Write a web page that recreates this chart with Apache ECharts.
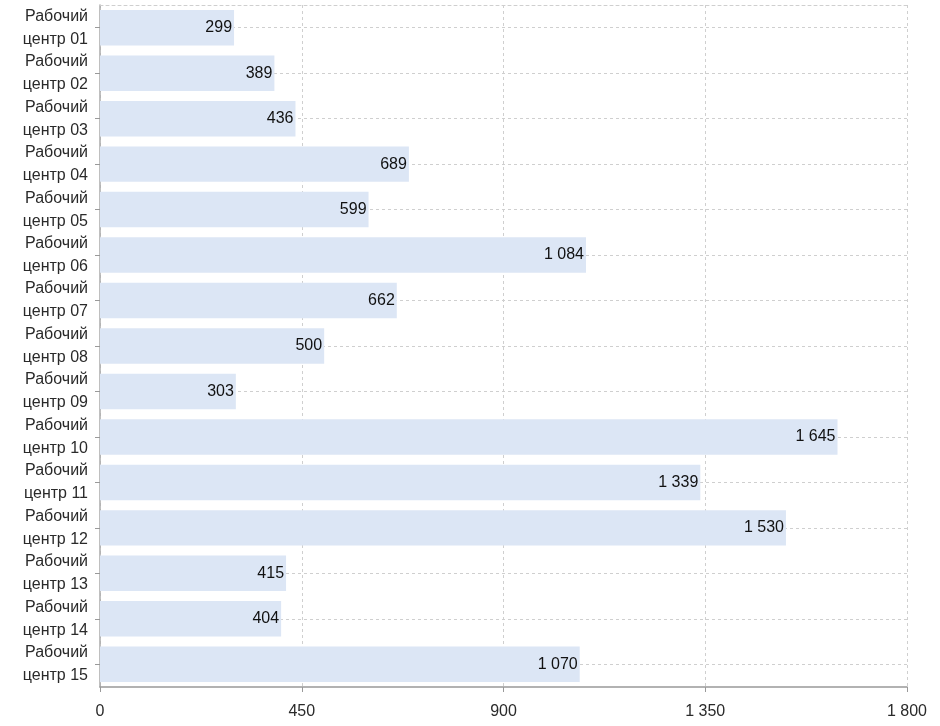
<!DOCTYPE html>
<html><head><meta charset="utf-8">
<script src="https://cdn.jsdelivr.net/npm/echarts@6/dist/echarts.min.js"></script>
<style>html,body{margin:0;padding:0;background:#fff}#c{width:940px;height:726px}</style>
</head><body><div id="c"></div>
<script>
var categories = ["Рабочий центр 01","Рабочий центр 02","Рабочий центр 03","Рабочий центр 04","Рабочий центр 05","Рабочий центр 06","Рабочий центр 07","Рабочий центр 08","Рабочий центр 09","Рабочий центр 10","Рабочий центр 11","Рабочий центр 12","Рабочий центр 13","Рабочий центр 14","Рабочий центр 15"];
var values = [299, 389, 436, 689, 599, 1084, 662, 500, 303, 1645, 1339, 1530, 415, 404, 1070];
var xTicks = [0, 450, 900, 1350, 1800];

function fmt(v){ return String(v).replace(/\B(?=(\d{3})+(?!\d))/g, ' '); }

var chart = echarts.init(document.getElementById('c'), null, {renderer:'canvas'});
var font = 'Liberation Sans, Arial, sans-serif';
chart.setOption({
  animation: false,
  textStyle: {fontFamily: font},
  grid: {left: 100, right: 33, top: 5, bottom: 39, containLabel: false},
  xAxis: [{
    type: 'value', min: xTicks[0], max: xTicks[xTicks.length-1], interval: 450,
    axisLine: {show: true, lineStyle: {color: '#999', width: 1.5}},
    axisTick: {show: true, length: 5, lineStyle: {color: '#999'}},
    axisLabel: {color: '#2a2a2a', fontSize: 16, margin: 17, formatter: fmt, fontFamily: font},
    splitLine: {show: true, lineStyle: {color: '#cfcfcf', type: [3, 3]}}
  }, {
    type: 'value', position: 'top', min: 0, max: 1800,
    axisLine: {show: true, lineStyle: {color: '#cfcfcf', type: [3, 3]}},
    axisTick: {show: false}, axisLabel: {show: false}, splitLine: {show: false}
  }],
  yAxis: {
    type: 'category', data: categories, inverse: true,
    axisLine: {show: true, lineStyle: {color: '#aaa', width: 1.5}},
    axisTick: {show: true, alignWithLabel: true, length: 5, lineStyle: {color: '#999'}},
    splitLine: {show: true, alignWithLabel: true, lineStyle: {color: '#cfcfcf', type: [3, 3]}},
    axisLabel: {
      interval: 0, hideOverlap: false,
      color: '#2a2a2a', fontSize: 16, margin: 12, lineHeight: 23, fontFamily: font,
      formatter: function(v){ return v.replace(' ', '\n'); }
    }
  },
  series: [{
    type: 'bar', data: values, barCategoryGap: '22%',
    itemStyle: {color: '#dce6f5'},
    label: {show: true, position: 'insideRight', distance: 2, color: '#111', fontSize: 16,
      fontFamily: font, formatter: function(p){ return fmt(p.value); }}
  }]
});
</script></body></html>
